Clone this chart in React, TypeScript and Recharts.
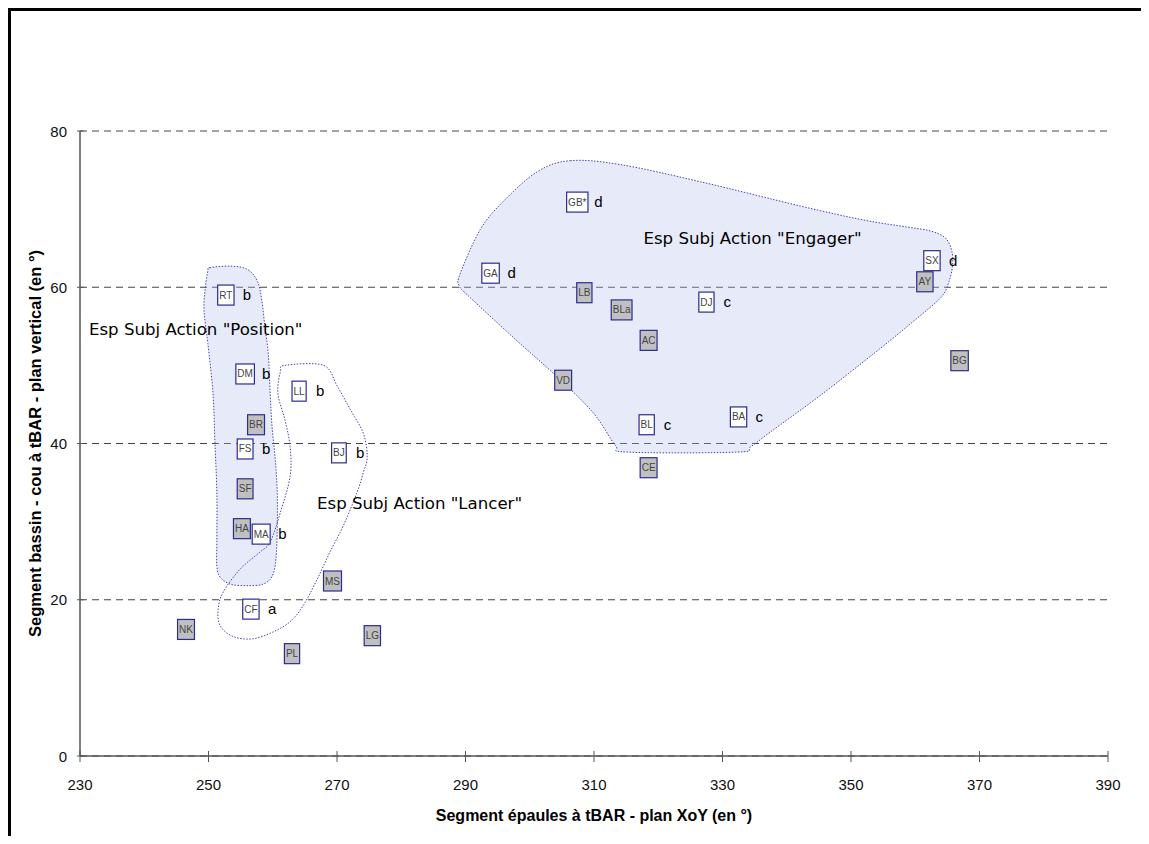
import { CartesianGrid, Label, Scatter, ScatterChart, XAxis, YAxis } from 'recharts'

// subjects: code, shoulders angle (x), pelvis-neck angle (y), grey box or not, group letter
const codes = ['RT', 'DM', 'BR', 'FS', 'SF', 'HA', 'MA', 'CF', 'NK', 'PL', 'LL', 'BJ', 'MS', 'LG', 'GB*', 'GA', 'LB', 'BLa', 'AC', 'VD', 'DJ', 'BL', 'BA', 'CE', 'SX', 'AY', 'BG']
const shoulders = [252.7, 255.7, 257.4, 255.7, 255.7, 255.2, 258.2, 256.6, 246.5, 263.0, 264.1, 270.3, 269.3, 275.5, 307.4, 293.9, 308.5, 314.3, 318.5, 305.2, 327.5, 318.2, 332.5, 318.5, 362.6, 361.5, 366.9]
const pelvis = [59.0, 48.9, 42.4, 39.3, 34.2, 29.1, 28.4, 18.8, 16.2, 13.1, 46.7, 38.8, 22.4, 15.4, 70.9, 61.8, 59.3, 57.1, 53.2, 48.1, 58.1, 42.4, 43.4, 36.9, 63.4, 60.7, 50.6]
const greyBox = [false, false, true, false, true, true, false, false, true, true, false, false, true, true, false, false, true, true, true, true, false, false, false, true, false, true, true]
const groups = ['b', 'b', '', 'b', '', '', 'b', 'a', '', '', 'b', 'b', '', '', 'd', 'd', '', '', '', '', 'c', 'c', 'c', '', 'd', '', '']

const xTicks = [230, 250, 270, 290, 310, 330, 350, 370, 390]
const yTicks = [0, 20, 40, 60, 80]

// hand-traced zone outlines, in data units
const positionZone = [[250.2, 62.5], [253.4, 62.7], [256.0, 62.3], [257.6, 60.8], [258.3, 58.3], [258.8, 54.8], [259.3, 51.5], [259.6, 46.4], [259.9, 42.1], [260.4, 37.9], [260.7, 33.7], [260.7, 29.4], [260.5, 25.2], [259.9, 23.0], [258.5, 22.0], [256.0, 21.8], [253.4, 22.0], [251.8, 22.9], [251.3, 24.3], [251.3, 27.4], [251.3, 33.7], [251.0, 40.1], [250.7, 46.4], [249.9, 52.8], [249.3, 57.0], [249.5, 59.9], [249.9, 62.1]]
const lancerZone = [[261.9, 50.0], [267.9, 50.0], [270.0, 47.4], [272.1, 44.3], [274.1, 41.3], [274.7, 38.3], [274.1, 36.3], [273.1, 33.7], [271.0, 29.5], [268.9, 26.1], [266.9, 22.6], [264.7, 19.2], [262.7, 17.2], [260.1, 15.9], [256.9, 15.0], [253.8, 15.3], [251.8, 16.7], [251.5, 18.8], [252.3, 21.0], [254.9, 23.9], [258.0, 26.1], [259.6, 27.4], [261.2, 31.2], [262.7, 35.8], [262.7, 39.6], [261.9, 43.0], [260.8, 46.4], [261.2, 49.2]]
const engagerZone = [[306.3, 76.2], [314.1, 75.7], [326.6, 73.5], [342.1, 70.4], [352.0, 68.6], [358.8, 67.7], [362.4, 67.2], [364.7, 66.3], [365.7, 64.6], [365.8, 62.7], [365.2, 60.6], [364.0, 58.7], [359.8, 55.7], [354.6, 52.2], [345.3, 46.2], [337.5, 41.5], [334.4, 39.6], [332.3, 38.9], [315.2, 38.9], [313.3, 39.8], [309.9, 43.9], [304.3, 48.5], [297.4, 53.6], [290.7, 58.7], [289.0, 60.2], [289.2, 61.8], [292.3, 67.4], [295.9, 71.0], [301.2, 74.8]]

const zoneNames = ['Esp Subj Action "Position"', 'Esp Subj Action "Lancer"', 'Esp Subj Action "Engager"']
const zoneNameX = [231.4, 266.9, 317.7]
const zoneNameY = [54.7, 32.4, 66.3]

const subjects = codes.map((c, i) => ({ x: shoulders[i], y: pelvis[i], code: c, grey: greyBox[i], group: groups[i] }))
const zoneLabels = zoneNames.map((t, i) => ({ x: zoneNameX[i], y: zoneNameY[i], text: t }))
const toPts = (z: number[][]) => z.map(([x, y]) => ({ x, y }))

const FONT = '"Liberation Sans", Arial, sans-serif'
const charW: Record<string, number> = { A: 0.667, B: 0.667, C: 0.722, D: 0.722, E: 0.667, F: 0.611, G: 0.778, H: 0.722, J: 0.5, K: 0.667, L: 0.556, M: 0.833, N: 0.722, P: 0.667, R: 0.722, S: 0.667, T: 0.611, V: 0.667, X: 0.667, Y: 0.667, a: 0.556, '*': 0.389 }
const boxWidth = (s: string) => [...s].reduce((w, ch) => w + (charW[ch] ?? 0.6) * 10, 0) + 3

function closedSmooth(pts: { x: number; y: number }[]) {
  const n = pts.length
  let d = `M${pts[0].x},${pts[0].y}`
  for (let i = 0; i < n; i++) {
    const p0 = pts[(i - 1 + n) % n]
    const p1 = pts[i]
    const p2 = pts[(i + 1) % n]
    const p3 = pts[(i + 2) % n]
    d += ` C${p1.x + (p2.x - p0.x) / 6},${p1.y + (p2.y - p0.y) / 6} ${p2.x - (p3.x - p1.x) / 6},${p2.y - (p3.y - p1.y) / 6} ${p2.x},${p2.y}`
  }
  return d + 'Z'
}

const zoneLine = (filled: boolean) => (p: any) => (
  <path
    d={closedSmooth(p.points)}
    fill={filled ? 'rgba(175,185,235,0.3)' : 'none'}
    stroke="#4646b8"
    strokeWidth={1}
    strokeDasharray="1.5 1.5"
  />
)

const Hidden = () => <g />

const SubjectBox = (p: any) => {
  const d = p.payload
  const w = boxWidth(d.code)
  return (
    <g>
      <rect x={p.cx - w / 2} y={p.cy - 10} width={w} height={20} fill={d.grey ? '#c0c0c0' : '#fff'} stroke="#2b2b92" strokeWidth={1.2} />
      <text x={p.cx} y={p.cy + 3.5} textAnchor="middle" fontSize={10} fill="#444" fontFamily={FONT}>{d.code}</text>
      {d.group ? (
        <text x={p.cx + 17} y={p.cy + 5} fontSize={15} fill="#000" fontFamily={FONT}>{d.group}</text>
      ) : null}
    </g>
  )
}

const ZoneName = (p: any) => (
  <text x={p.cx} y={p.cy + 6} fontSize={16.6} fill="#000" fontFamily='"DejaVu Sans", sans-serif'>{p.payload.text}</text>
)

const XTick = (p: any) => (
  <g>
    <line x1={p.x} x2={p.x} y1={p.y - 5} y2={p.y + 6} stroke="#555" />
    <text x={p.x} y={p.y + 34} textAnchor="middle" fontSize={15} fill="#111" fontFamily={FONT}>{p.payload.value}</text>
  </g>
)

const YTick = (p: any) => (
  <g>
    <line x1={p.x - 3} x2={p.x + 4} y1={p.y} y2={p.y} stroke="#555" />
    <text x={p.x - 13} y={p.y + 5.5} textAnchor="end" fontSize={15} fill="#111" fontFamily={FONT}>{p.payload.value}</text>
  </g>
)

export default function App() {
  return (
    <div style={{ width: 1130, height: 825, borderTop: '3px solid #000', borderLeft: '3px solid #000', background: '#fff' }}>
      <ScatterChart width={1130} height={825} margin={{ top: 120, right: 33, bottom: 0, left: 9 }}>
        <CartesianGrid vertical={false} stroke="#444" strokeDasharray="7 5" />
        <XAxis
          type="number"
          dataKey="x"
          domain={[230, 390]}
          ticks={xTicks}
          tickSize={0}
          tickMargin={0}
          tick={XTick}
          height={80}
          stroke="#555"
          strokeWidth={1.5}
        >
          <Label
            value="Segment épaules à tBAR - plan XoY (en °)"
            position="insideBottom"
            offset={15}
            style={{ fontFamily: FONT, fontWeight: 700, fontSize: 16, fill: '#000' }}
          />
        </XAxis>
        <YAxis
          type="number"
          dataKey="y"
          domain={[0, 80]}
          ticks={yTicks}
          tickSize={0}
          tickMargin={0}
          tick={YTick}
          width={60}
          stroke="#555"
          strokeWidth={1.5}
        >
          <Label
            value="Segment bassin - cou à tBAR - plan vertical (en °)"
            angle={-90}
            position="insideLeft"
            offset={15}
            style={{ textAnchor: 'middle', fontFamily: FONT, fontWeight: 700, fontSize: 16.5, fill: '#000' }}
          />
        </YAxis>
        <Scatter data={toPts(positionZone)} shape={Hidden} line={zoneLine(true)} isAnimationActive={false} legendType="none" />
        <Scatter data={toPts(lancerZone)} shape={Hidden} line={zoneLine(false)} isAnimationActive={false} legendType="none" />
        <Scatter data={toPts(engagerZone)} shape={Hidden} line={zoneLine(true)} isAnimationActive={false} legendType="none" />
        <Scatter data={zoneLabels} shape={ZoneName} isAnimationActive={false} legendType="none" />
        <Scatter data={subjects} shape={SubjectBox} isAnimationActive={false} legendType="none" />
      </ScatterChart>
    </div>
  )
}
